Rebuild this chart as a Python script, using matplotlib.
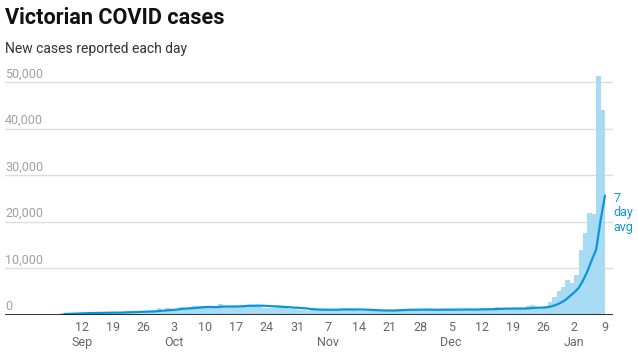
import datetime as dt
import matplotlib
matplotlib.use("Agg")
import matplotlib.pyplot as plt
import pandas as pd

# daily new cases, 1 Sep 2021 - 9 Jan 2022
sep_cases = [120, 176, 208, 190, 183, 246, 221, 324, 334, 450, 392, 473, 476, 445, 423,
             514, 510, 535, 567, 507, 603, 628, 766, 733, 847, 779, 705, 867, 950, 1438]
oct_cases = [1143, 1488, 1220, 1377, 1763, 1420, 1638, 1838, 1965, 1890, 1612, 1466, 1571,
             2297, 1993, 1993, 1838, 1903, 1749, 2232, 2189, 2179, 1935, 1461, 1510, 1534,
             1923, 1656, 1750, 1355, 1221]
nov_cases = [989, 1069, 941, 1247, 1343, 1252, 1035, 1126, 1003, 1273, 1362, 1313, 1208,
             1115, 860, 833, 1007, 1029, 941, 1052, 1029, 827, 1179, 1254, 1342, 1252,
             1061, 1069, 918, 1186]
dec_cases = [1179, 1188, 1365, 1193, 980, 1073, 1185, 1312, 1232, 1206, 1290, 1196, 1189,
             1290, 1405, 1622, 1504, 1382, 1240, 1302, 1245, 1503, 1999, 2095, 1608, 1302,
             1999, 2738, 3767, 5137, 5919]
jan_cases = [7442, 6928, 8577, 14020, 17636, 21997, 21728, 51356, 44155]

first_day = "2021-09-01"
first_shown = "2021-09-08"
y_ticks = [0, 10000, 20000, 30000, 40000, 50000]

all_cases = sep_cases + oct_cases + nov_cases + dec_cases + jan_cases
cases = pd.Series(all_cases, index=pd.date_range(first_day, periods=len(all_cases)))
avg = cases.rolling(7).mean()
cases = cases[first_shown:]
avg = avg[first_shown:]

BAR = "#a7dbf4"
LINE = "#0b95d9"

plt.rcParams["font.family"] = ["Roboto", "DejaVu Sans"]
fig = plt.figure(figsize=(6.38, 3.55), dpi=100)
W, H = 638, 355
ax = fig.add_axes([5 / W, 40 / H, 608 / W, 242 / H])

ax.bar(cases.index, cases.values, width=-1.0, align="edge", color=BAR, linewidth=0)
ax.plot(avg.index, avg.values, color=LINE, lw=1.6, solid_capstyle="round")

ax.set_ylim(0, 52000)
ax.set_xlim(dt.datetime(2021, 8, 25, 12), dt.datetime(2022, 1, 10, 20))

for v in y_ticks[1:]:
    ax.axhline(v, color="#dddddd", lw=1, zorder=0)
ax.axhline(0, color="#111111", lw=1.2, zorder=3)
for v in y_ticks:
    ax.annotate(f"{v:,}", xy=(0, v), xycoords=("axes fraction", "data"),
                xytext=(0, 3.5), textcoords="offset points", va="baseline",
                ha="left", fontsize=9, color="#a0a0a0")

tick_dates = pd.date_range("2021-09-12", "2022-01-09", freq="7D")
labels = []
prev_month = None
for d in tick_dates:
    if d.month != prev_month:
        labels.append(f"{d.day}\n{d.strftime('%b')}")
        prev_month = d.month
    else:
        labels.append(f"{d.day}\n")
ax.set_xticks(tick_dates)
ax.set_xticklabels(labels, fontsize=9, color="#666666", linespacing=1.25)
ax.tick_params(axis="x", length=0, pad=4)
ax.set_yticks([])
for s in ax.spines.values():
    s.set_visible(False)

ax.annotate("7\nday\navg", xy=(avg.index[-1], avg.values[-1]), xytext=(6, 3),
            textcoords="offset points", ha="left", va="top", fontsize=9,
            color=LINE, linespacing=1.15)

fig.text(5 / W, 1 - 24 / H, "Victorian COVID cases", fontsize=15.6, fontweight="bold",
         va="baseline", ha="left", color="#111111")
fig.text(5 / W, 1 - 53.5 / H, "New cases reported each day", fontsize=10,
         va="baseline", ha="left", color="#333333")

fig.savefig("out.png", dpi=100)
